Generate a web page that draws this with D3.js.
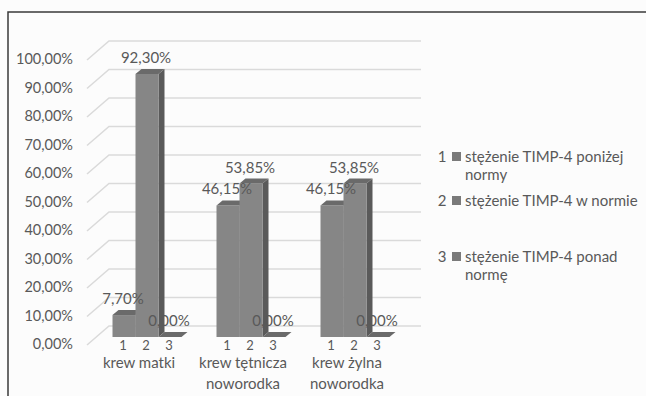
<!DOCTYPE html>
<html>
<head>
<meta charset="utf-8">
<script src="https://d3js.org/d3.v7.min.js"></script>
<style>
    body { margin:0; background:#fff; }
    svg { display:block; font-family:Lato, "Open Sans", sans-serif; }
</style>
</head>
<body>
<svg width="646" height="396"></svg>
<script>
    // chart data
    const categories = [['krew matki'], ['krew tętnicza', 'noworodka'], ['krew żylna', 'noworodka']];
    const seriesIds = ['1', '2', '3'];
    const seriesNames = [['stężenie TIMP-4 poniżej', 'normy'], ['stężenie TIMP-4 w normie'], ['stężenie TIMP-4 ponad', 'normę']];
    // values[category][series], in percent
    const values = [
        [7.70, 92.30, 0.00],
        [46.15, 53.85, 0.00],
        [46.15, 53.85, 0.00]
    ];
    const yTicks = [0, 10, 20, 30, 40, 50, 60, 70, 80, 90, 100];

    const svg = d3.select('svg');
    const textColor = '#595959';
    const fmt = v => d3.format('.2f')(v).replace('.', ',') + '%';

    // frame
    svg.append('rect').attr('width', 646).attr('height', 396).attr('fill', '#fcfcfc');
    svg.append('path').attr('d', 'M8,396V12H646').attr('fill', 'none')
       .attr('stroke', '#3a3a3a').attr('stroke-width', 1.5);

    // bar plane scales; floor front and back wall are offset from it
    const yScale = d3.scaleLinear().domain([0, 100]).range([337, 52]);
    const x0 = d3.scaleBand().domain(d3.range(categories.length)).range([95, 407]);
    const groupW = 69;
    const x1 = d3.scaleBand().domain(d3.range(seriesIds.length)).range([0, groupW]);
    const front = { dx: -8, dy: 8 }, back = { dx: 14, dy: -11 };
    const depth = { dx: 6, dy: -5 };
    const plotLeft = x0.range()[0], plotRight = x0.range()[1];

    // grid: side wall diagonal + back wall horizontal
    const grid = svg.append('g').attr('stroke', '#dadada').attr('stroke-width', 1.5).attr('fill', 'none');
    yTicks.forEach(v => {
        const y = yScale(v);
        grid.append('path').attr('d',
            `M${plotLeft + front.dx},${y + front.dy}L${plotLeft + back.dx},${y + back.dy}H${plotRight + back.dx}`);
    });

    // y axis labels
    const yAxis = d3.axisLeft(yScale).tickValues(yTicks).tickSize(0).tickPadding(0).tickFormat(fmt);
    const ya = svg.append('g').attr('transform', `translate(73,${front.dy - 1})`).call(yAxis);
    ya.select('.domain').remove();
    ya.selectAll('text').attr('fill', textColor).style('font-size', '14.5px').style('font-family', 'Lato, sans-serif');

    // bars
    const bw = x1.bandwidth();
    const bars = svg.append('g');
    const labels = svg.append('g');
    categories.forEach((c, ci) => {
        const gx = x0(ci) + (x0.bandwidth() - groupW) / 2;
        values[ci].forEach((v, si) => {
            const x = gx + x1(si), yt = yScale(v), yb = yScale(0);
            // side face
            bars.append('path')
                .attr('d', `M${x + bw},${yt}L${x + bw + depth.dx},${yt + depth.dy}V${yb + depth.dy}L${x + bw},${yb}Z`)
                .attr('fill', '#5a5a5a');
            // front face
            bars.append('rect').attr('x', x).attr('y', yt).attr('width', bw).attr('height', yb - yt)
                .attr('fill', '#868686');
            // top face
            bars.append('path')
                .attr('d', `M${x},${yt}L${x + depth.dx},${yt + depth.dy}H${x + bw + depth.dx}L${x + bw},${yt}Z`)
                .attr('fill', '#6a6a6a');
            // value label (drawn above all bars)
            labels.append('text').attr('x', x + bw / 2 - 1).attr('y', yt - 11)
                .attr('text-anchor', 'middle').attr('fill', textColor).style('font-size', '15px')
                .text(fmt(v));
            // series number below
            labels.append('text').attr('x', x + bw / 2 - 1).attr('y', 350)
                .attr('text-anchor', 'middle').attr('fill', textColor).style('font-size', '13px')
                .text(seriesIds[si]);
        });
        // category label
        const t = labels.append('text').attr('text-anchor', 'middle').attr('fill', textColor)
            .style('font-size', '15px');
        c.forEach((line, li) => {
            t.append('tspan').attr('x', x0(ci) + x0.bandwidth() / 2 - 8).attr('y', 368 + li * 21).text(line);
        });
    });

    // legend
    const legendY = [162, 206, 262];
    const legend = svg.append('g');
    seriesNames.forEach((name, i) => {
        const y = legendY[i];
        legend.append('text').attr('x', 442).attr('y', y).attr('text-anchor', 'middle')
            .attr('fill', textColor).style('font-size', '15px').text(seriesIds[i]);
        legend.append('rect').attr('x', 452).attr('y', y - 10).attr('width', 9).attr('height', 9)
            .attr('fill', '#7a7a7a');
        const t = legend.append('text').attr('fill', textColor).style('font-size', '15px');
        name.forEach((line, li) => {
            t.append('tspan').attr('x', 465).attr('y', y + li * 18).text(line);
        });
    });
</script>
</body>
</html>
